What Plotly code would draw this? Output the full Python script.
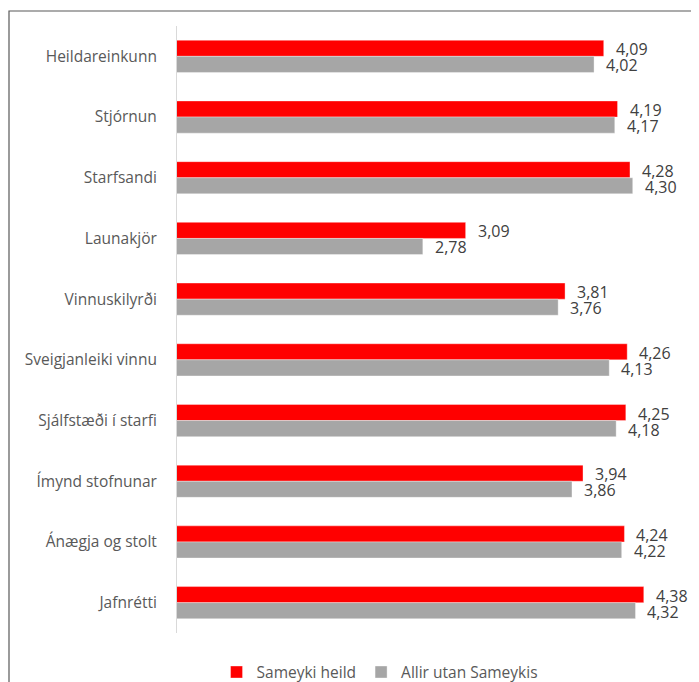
import plotly.graph_objects as go

categories = ["Heildareinkunn", "Stjórnun", "Starfsandi", "Launakjör", "Vinnuskilyrði",
              "Sveigjanleiki vinnu", "Sjálfstæði í starfi", "Ímynd stofnunar",
              "Ánægja og stolt", "Jafnrétti"]
sameyki = [4.09, 4.19, 4.28, 3.09, 3.81, 4.26, 4.25, 3.94, 4.24, 4.38]
allir = [4.02, 4.17, 4.30, 2.78, 3.76, 4.13, 4.18, 3.86, 4.22, 4.32]
series_names = ["Sameyki heild", "Allir utan Sameykis"]
colors = ["#FF0000", "#A6A6A6"]

FONT = "Open Sans"

def fmt(v):
    return f"{v:.2f}".replace(".", ",")

fig = go.Figure()
for name, vals, col in zip(series_names, [sameyki, allir], colors):
    fig.add_trace(go.Bar(
        y=categories, x=vals, orientation="h", name=name,
        marker=dict(color=col, line=dict(color="rgba(255,255,255,0.6)", width=0.6)),
        hoverinfo="x+y",
    ))

annotations = []
for vals, ys in [(sameyki, 7), (allir, -9)]:
    for c, v in zip(categories, vals):
        annotations.append(dict(
            x=v, y=c, xref="x", yref="y", text=fmt(v), showarrow=False,
            xanchor="left", yanchor="middle", xshift=10, yshift=ys,
            font=dict(family=FONT, size=16, color="#404040"),
        ))

fig.update_layout(
    width=691, height=674,
    margin=dict(l=169, r=0, t=18, b=49, pad=0, autoexpand=False),
    paper_bgcolor="white", plot_bgcolor="white",
    barmode="group", bargap=0.47, bargroupgap=0,
    font=dict(family=FONT, size=15.5, color="#595959"),
    showlegend=True,
    legend=dict(orientation="h", x=0.388, xanchor="center", y=-0.065, yanchor="middle",
                font=dict(family=FONT, size=15.5, color="#595959"),
                itemwidth=30, traceorder="normal"),
    annotations=annotations,
    shapes=[dict(type="rect", xref="paper", yref="paper",
                 x0=(1 - 169) / 522, x1=1.2, y0=-0.2, y1=(625 - 3) / 607,
                 line=dict(color="#595959", width=1.2), layer="below")],
    xaxis=dict(range=[1, 1 + 522 / 138.1], showgrid=False, zeroline=False,
               showticklabels=False, showline=False, fixedrange=True, automargin=False),
    yaxis=dict(autorange="reversed", showline=True, linecolor="#D9D9D9", linewidth=1,
               showgrid=False, ticks="", ticklabelstandoff=16, automargin=False,
               tickfont=dict(family=FONT, size=15.5, color="#595959")),
)

fig.write_html("out.html")
